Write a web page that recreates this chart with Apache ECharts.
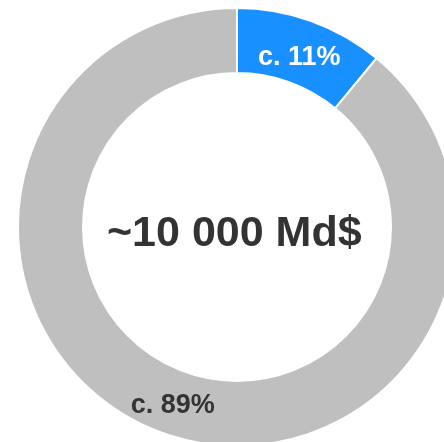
<!DOCTYPE html>
<html>
<head>
<meta charset="utf-8">
<script src="https://cdn.jsdelivr.net/npm/echarts@6/dist/echarts.min.js"></script>
<style>
  html, body { margin: 0; padding: 0; background: #fff; }
  #chart { width: 444px; height: 442px; }
</style>
</head>
<body>
<div id="chart"></div>
<script>
// donnees
var categories = ['part', 'reste'];
var values = [11, 89];
var labels = ['c. 11%', 'c. 89%'];
var colors = ['#1890FF', '#BFBFBF'];
var labelColors = ['#FFFFFF', '#333333'];
var centerText = '~10 000 Md$';

var chart = echarts.init(document.getElementById('chart'));
var pieData = [];
for (var i = 0; i < categories.length; i++) {
    pieData.push({
        name: categories[i],
        value: values[i],
        itemStyle: { color: colors[i] },
        label: { color: labelColors[i], formatter: labels[i], offset: i === 0 ? [-2, 9] : [0, 0] }
    });
}
var option = {
    animation: false,
    backgroundColor: '#FFFFFF',
    graphic: [{
        type: 'text',
        left: 237 - 130,
        top: 213,
        style: {
            text: centerText,
            fill: '#333333',
            font: 'bold 43px "Liberation Sans", Arial, sans-serif',
            width: 260,
            align: 'center'
        }
    }],
    series: [{
        type: 'pie',
        center: [237, 227],
        radius: [154, 219],
        startAngle: 90,
        clockwise: true,
        avoidLabelOverlap: false,
        itemStyle: { borderColor: '#FFFFFF', borderWidth: 2 },
        label: {
            show: true,
            position: 'inside',
            fontFamily: '"Liberation Sans", Arial, sans-serif',
            fontWeight: 'bold',
            fontSize: 27
        },
        labelLine: { show: false },
        emphasis: { disabled: true },
        data: pieData
    }]
};
chart.setOption(option);
</script>
</body>
</html>
